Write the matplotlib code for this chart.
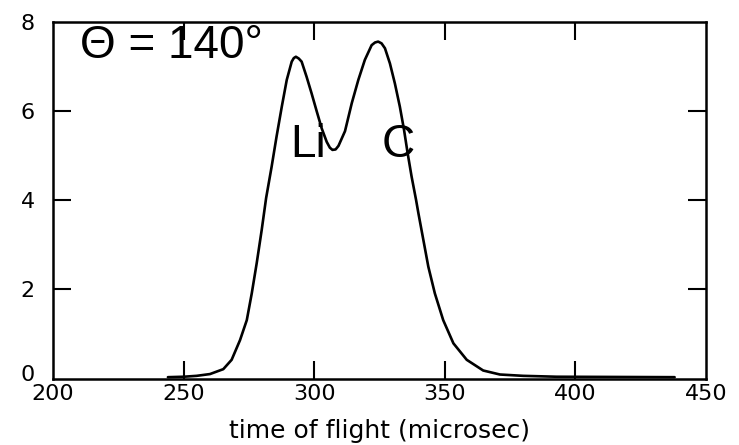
import numpy as np
import matplotlib
matplotlib.use("Agg")
import matplotlib.pyplot as plt
import matplotlib.transforms as mtransforms

# Time-of-flight spectrum (microsec) and yield
tof = [244, 250, 255, 260.1, 265.2, 268.4, 271.6, 274.2, 276.1, 278.0, 279.9,
       281.6, 283.7, 285.6, 287.6, 289.5, 291.4, 292.2, 293.0, 294.1, 295.2,
       297.1, 299.0, 301.0, 302.9, 304.8, 306.0, 307.0, 308.2, 309.3, 311.8,
       314.4, 316.9, 319.4, 322.0, 323.3, 324.5, 325.8, 327.1, 329.0, 330.9,
       332.8, 334.4, 335.8, 337.3, 339.0, 339.9, 341.8, 343.7, 346.2, 349.4,
       353.3, 358.4, 364.7, 371.1, 380.0, 392.8, 438]
counts = [0.03, 0.04, 0.06, 0.10, 0.21, 0.42, 0.86, 1.31, 1.91, 2.59, 3.33,
          4.05, 4.75, 5.43, 6.10, 6.70, 7.11, 7.19, 7.22, 7.18, 7.11,
          6.77, 6.40, 5.99, 5.61, 5.31, 5.18, 5.13, 5.14, 5.22, 5.55,
          6.18, 6.70, 7.15, 7.48, 7.54, 7.56, 7.52, 7.41, 7.07, 6.62,
          6.10, 5.58, 5.05, 4.53, 4.01, 3.71, 3.11, 2.51, 1.91, 1.31,
          0.79, 0.42, 0.18, 0.09, 0.06, 0.04, 0.03]

x_ticks = [200, 250, 300, 350, 400, 450]
y_ticks = [0, 2, 4, 6, 8]

fig = plt.figure(figsize=(7.39, 4.45), dpi=100)
ax = fig.add_axes([0.0717, 0.1494, 0.8836, 0.8012])

ax.plot(tof, counts, color="black", lw=1.9, solid_joinstyle="round",
        solid_capstyle="round")

ax.set_xlim(200, 450)
ax.set_ylim(0, 8)
ax.set_xticks(x_ticks)
ax.set_yticks(y_ticks)
ax.set_xticklabels([str(v) for v in x_ticks])
ax.set_yticklabels([str(v) for v in y_ticks])
ax.tick_params(direction="in", length=13, width=1.5, top=True, right=True,
               labelsize=16)
ax.tick_params(axis="x", pad=4)
ax.tick_params(axis="y", pad=13)
for s in ax.spines.values():
    s.set_linewidth(1.8)

# no tick marks at the frame corners
for axis in (ax.xaxis, ax.yaxis):
    ticks = axis.get_major_ticks()
    for t in (ticks[0], ticks[-1]):
        t.tick1line.set_visible(False)
        t.tick2line.set_visible(False)

# lift the "0" on the y axis a little above the frame corner
lbl0 = ax.yaxis.get_major_ticks()[0].label1
lbl0.set_transform(lbl0.get_transform() +
                   mtransforms.ScaledTranslation(0, 6 / 100, fig.dpi_scale_trans))

ax.set_xlabel("time of flight (microsec)", fontsize=18, labelpad=11)

big = dict(fontsize=33, family="Liberation Sans", color="black")
ax.text(210.3, 7.19, "\u0398 = 140\u00b0", ha="left", va="baseline", **big)
ax.text(290.7, 4.98, "Li", ha="left", va="baseline", **big)
ax.text(325.8, 4.98, "C", ha="left", va="baseline", **big)

fig.savefig("out.png", dpi=100)
